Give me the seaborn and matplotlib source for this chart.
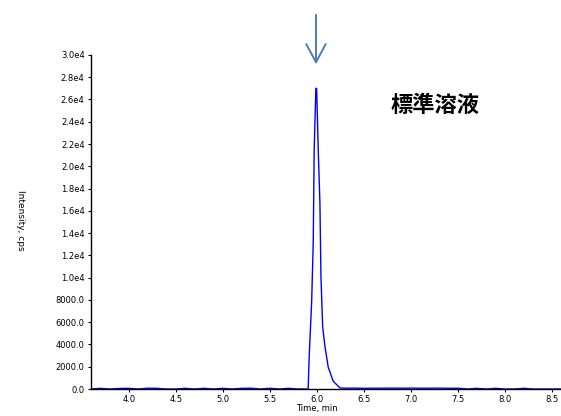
import matplotlib
matplotlib.use("Agg")
import matplotlib.pyplot as plt
import seaborn as sns
import pandas as pd

# ---- data ----
base_left_t = [3.60, 3.70, 3.80, 3.90, 4.00, 4.10, 4.20, 4.30, 4.40, 4.50, 4.60, 4.70,
               4.80, 4.90, 5.00, 5.10, 5.20, 5.30, 5.40, 5.50, 5.60, 5.70, 5.80, 5.88]
base_left_v = [0, 60, 0, 50, 60, 0, 70, 60, 0, 0, 60, 0,
               60, 0, 60, 0, 60, 70, 0, 60, 0, 60, 0, 0]
peak_t = [5.907, 5.918, 5.944, 5.961, 5.971, 5.989, 5.997, 6.014, 6.032, 6.043,
          6.061, 6.085, 6.120, 6.173, 6.245]
peak_v = [0, 2950, 7800, 13160, 21500, 27000, 27000, 21500, 16700, 10100,
          5600, 3850, 1970, 700, 100]
base_right_t = [6.30, 6.40, 6.50, 6.60, 6.70, 6.80, 6.90, 7.00, 7.10, 7.20, 7.30,
                7.40, 7.50, 7.60, 7.70, 7.80, 7.90, 8.00, 8.10, 8.20, 8.30, 8.40, 8.50, 8.60]
base_right_v = [70, 80, 60, 70, 70, 80, 70, 80, 70, 70, 80,
                60, 70, 0, 60, 0, 60, 0, 0, 60, 0, 0, 0, 0]

yticks = [0, 2000, 4000, 6000, 8000, 10000, 12000, 14000, 16000, 18000, 20000,
          22000, 24000, 26000, 28000, 30000]
ytick_labels = ["0.0", "2000.0", "4000.0", "6000.0", "8000.0", "1.0e4", "1.2e4",
                "1.4e4", "1.6e4", "1.8e4", "2.0e4", "2.2e4", "2.4e4", "2.6e4",
                "2.8e4", "3.0e4"]
xticks = [4.0, 4.5, 5.0, 5.5, 6.0, 6.5, 7.0, 7.5, 8.0, 8.5]
xtick_labels = ["4.0", "4.5", "5.0", "5.5", "6.0", "6.5", "7.0", "7.5", "8.0", "8.5"]
x_label = "Time, min"
y_label = "Intensity, cps"
title_text = "標準溶液"
arrow_time = 5.99

df = pd.DataFrame({
    "time": base_left_t + peak_t + base_right_t,
    "intensity": base_left_v + peak_v + base_right_v,
})

sns.set_style("ticks")
plt.rcParams["font.family"] = ["DejaVu Sans", "Noto Sans CJK JP"]
plt.rcParams["text.color"] = "black"

fig = plt.figure(figsize=(5.61, 4.16), dpi=100)
ax = fig.add_axes([0.162, 0.0649, 0.838, 0.8030])

sns.lineplot(data=df, x="time", y="intensity", ax=ax, color="#0000ff",
             linewidth=1.0, estimator=None, sort=True)

ax.set_xlim(3.596, 8.596)
ax.set_ylim(0, 30000)
ax.set_yticks(yticks)
ax.set_yticklabels(ytick_labels)
ax.set_xticks(xticks)
ax.set_xticklabels(xtick_labels)
ax.tick_params(axis="both", labelsize=6, length=2.5, width=0.8, pad=2, colors="black")
for s in ["top", "right"]:
    ax.spines[s].set_visible(False)
for s in ["left", "bottom"]:
    ax.spines[s].set_linewidth(1.0)
    ax.spines[s].set_color("black")
    ax.spines[s].set_zorder(3)

ax.set_xlabel("")
ax.set_ylabel("")
fig.text(317 / 561, 1 - 409 / 416, x_label, fontsize=6, color="black",
         ha="center", va="center")
fig.text(20 / 561, 1 - 220 / 416, y_label, rotation=270, fontsize=6.5, color="black",
         ha="center", va="center")

fig.text(435 / 561, 1 - 105 / 416, title_text, fontsize=16, fontweight="bold",
         color="black", family=["Noto Sans CJK JP"], ha="center", va="center")

# arrow pointing to the peak
ax.annotate("", xy=(arrow_time, 1 - 67 / 416), xycoords=("data", "figure fraction"),
            xytext=(arrow_time, 1 - 12 / 416), textcoords=("data", "figure fraction"),
            arrowprops=dict(arrowstyle="->,head_length=1.3,head_width=0.7",
                            color="#4a7ebb", linewidth=1.4),
            annotation_clip=False)

fig.savefig("out.png", dpi=100)
